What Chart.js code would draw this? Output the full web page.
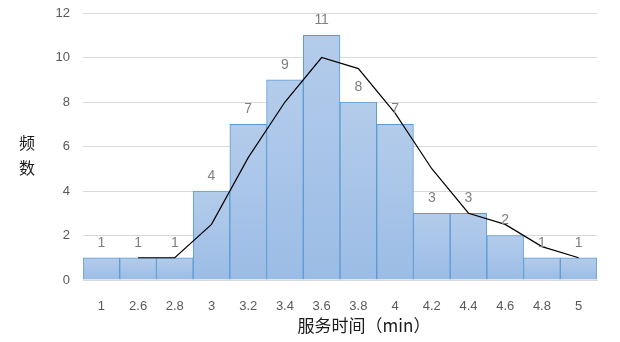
<!DOCTYPE html>
<html>
<head>
<meta charset="utf-8">
<script src="https://cdn.jsdelivr.net/npm/chart.js@4"></script>
<style>
  html, body { margin: 0; padding: 0; background: #fff; }
  #wrap { width: 620px; height: 342px; }
</style>
</head>
<body>
<div id="wrap"><canvas id="chart" width="620" height="342"></canvas></div>
<script>
// bin labels on the x axis
const bins = ['1', '2.6', '2.8', '3', '3.2', '3.4', '3.6', '3.8', '4', '4.2', '4.4', '4.6', '4.8', '5'];
// frequency per bin
const counts = [1, 1, 1, 4, 7, 9, 11, 8, 7, 3, 3, 2, 1, 1];
// 2-period moving average trendline, as drawn
const trend = [null, 1, 1, 2.5, 5.5, 8, 10, 9.5, 7.5, 5, 3, 2.5, 1.5, 1];
const yTicks = [0, 2, 4, 6, 8, 10, 12];

const numFont = '"Liberation Sans", Arial, sans-serif';
const cjkFont = '"Noto Sans CJK SC", "Noto Sans", sans-serif';

function barFill(ctx) {
  const chart = ctx.chart;
  const y = chart.scales && chart.scales.y;
  if (!y || !chart.chartArea) return '#a9c4e7';
  const top = y.getPixelForValue(ctx.raw);
  const bottom = y.getPixelForValue(0);
  const g = chart.ctx.createLinearGradient(0, top, 0, bottom);
  g.addColorStop(0, '#b4cceb');
  g.addColorStop(1, '#9bbce5');
  return g;
}

// value labels above each bar
const barLabels = {
  id: 'barLabels',
  afterDatasetsDraw(chart) {
    const meta = chart.getDatasetMeta(1);
    const c = chart.ctx;
    c.save();
    c.font = '14px ' + numFont;
    c.fillStyle = '#7f7f7f';
    c.textAlign = 'center';
    c.textBaseline = 'bottom';
    meta.data.forEach((bar, i) => {
      c.fillText(String(counts[i]), bar.x, bar.y - 8);
    });
    c.restore();
  }
};

// axis titles (Excel style: y title stacked, not rotated)
const axisTitles = {
  id: 'axisTitles',
  afterDraw(chart) {
    const c = chart.ctx;
    c.save();
    c.fillStyle = '#1a1a1a';
    c.font = '16px ' + cjkFont;
    c.textAlign = 'center';
    c.textBaseline = 'middle';
    c.fillText('频', 27, 143);
    c.fillText('数', 27, 168);
    c.font = '17px ' + cjkFont;
    c.fillText('服务时间（min）', 364, 326);
    c.restore();
  }
};

new Chart(document.getElementById('chart').getContext('2d'), {
  data: {
    labels: bins,
    datasets: [
      {
        type: 'line',
        data: trend,
        borderColor: '#000000',
        borderWidth: 1.2,
        pointRadius: 0,
        tension: 0,
        fill: false,
        order: 0
      },
      {
        type: 'bar',
        data: counts,
        backgroundColor: barFill,
        borderColor: '#5b9bd5',
        borderWidth: 1,
        barPercentage: 1,
        categoryPercentage: 1,
        order: 1
      }
    ]
  },
  options: {
    responsive: false,
    animation: false,
    events: [],
    layout: { padding: { left: 0, right: 23, top: 13, bottom: 0 } },
    plugins: {
      legend: { display: false },
      tooltip: { enabled: false }
    },
    scales: {
      x: {
        grid: { display: false },
        border: { display: true, color: '#d9d9d9' },
        ticks: { color: '#595959', font: { family: numFont, size: 13 }, padding: 11, maxRotation: 0 },
        afterFit(scale) { scale.height = 62; scale.paddingLeft = 0; scale.paddingRight = 0; }
      },
      y: {
        min: 0,
        max: 12,
        afterBuildTicks(scale) { scale.ticks = yTicks.map(v => ({ value: v })); },
        grid: { color: '#d9d9d9', drawTicks: false },
        border: { display: false },
        ticks: { color: '#595959', font: { family: numFont, size: 13 }, padding: 13 },
        afterFit(scale) { scale.width = 83; scale.paddingTop = 0; scale.paddingBottom = 0; }
      }
    }
  },
  plugins: [barLabels, axisTitles]
});
</script>
</body>
</html>
